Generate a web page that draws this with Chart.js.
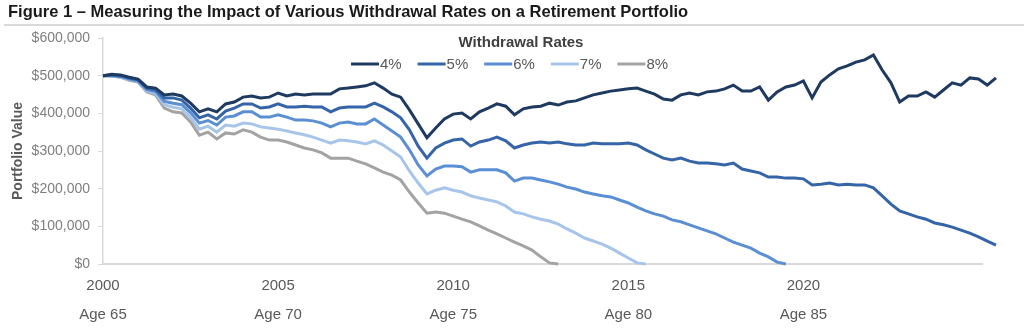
<!DOCTYPE html>
<html lang="en">
<head>
<meta charset="UTF-8">
<title>Withdrawal Rates</title>
<script src="https://cdn.jsdelivr.net/npm/chart.js"></script>
<style>
    body {
        margin: 0;
        background: #ffffff;
        font-family: 'Liberation Sans', Arial, sans-serif;
    }
    .wrap {
        position: relative;
        width: 1024px;
        height: 328px;
        overflow: hidden;
    }
    #figTitle {
        position: absolute;
        left: 8px;
        top: 2px;
        font: bold 16.5px 'Liberation Sans Narrow', 'Liberation Sans', Arial, sans-serif;
        color: #1a1a1a;
        white-space: nowrap;
    }
    #rule {
        position: absolute;
        left: 4px;
        right: 0;
        top: 24px;
        height: 2px;
        background: #d9d9d9;
    }
    canvas {
        position: absolute;
        left: 0;
        top: 0;
    }
</style>
</head>
<body>
<div class="wrap">
    <canvas id="chart" width="1024" height="328"></canvas>
    <div id="figTitle">Figure 1 – Measuring the Impact of Various Withdrawal Rates on a Retirement Portfolio</div>
    <div id="rule"></div>
</div>

<script>
    // quarterly readings, portfolio value in thousands of dollars
    const startYear = 2000;
    const stepYears = 0.25;
    const axisEndYear = 2025.1;

    const rateLabels = ['4%', '5%', '6%', '7%', '8%'];
    const tickYears = [2000, 2005, 2010, 2015, 2020];
    const ageLabels = ['Age 65', 'Age 70', 'Age 75', 'Age 80', 'Age 85'];

    const rate4 = [
        500, 504, 502, 496, 491, 470, 467, 449, 451, 446,
        427, 404, 412, 404, 425, 430, 443, 446, 441, 443,
        454, 446, 451, 449, 451, 451, 451, 465, 467, 470,
        473, 481, 467, 451, 443, 409, 372, 335, 361, 385,
        398, 401, 385, 404, 414, 425, 419, 396, 412, 417,
        419, 427, 422, 430, 433, 441, 449, 454, 459, 462,
        465, 467, 459, 451, 438, 435, 449, 454, 449, 457,
        459, 465, 475, 459, 459, 470, 435, 457, 470, 475,
        486, 441, 483, 502, 518, 526, 536, 542, 555, 515,
        481, 430, 446, 446, 457, 443, 462, 481, 475, 494,
        491, 475, 494
    ];
    const rate5 = [
        500, 502, 499, 494, 489, 467, 462, 441, 441, 435,
        414, 388, 396, 385, 406, 414, 425, 425, 414, 417,
        425, 417, 417, 419, 417, 417, 404, 414, 417, 417,
        417, 427, 417, 404, 388, 356, 313, 281, 308, 321,
        329, 332, 313, 324, 329, 337, 327, 308, 316, 321,
        324, 321, 324, 319, 316, 316, 321, 319, 319, 319,
        321, 316, 303, 292, 281, 276, 281, 273, 268, 268,
        266, 263, 268, 252, 247, 242, 231, 231, 228, 228,
        226, 210, 212, 215, 210, 212, 210, 210, 202, 181,
        159, 141, 133, 125, 119, 109, 104, 98, 90, 82,
        72, 61, 50
    ];
    const rate6 = [
        500, 500, 498, 491, 486, 463, 458, 432, 427, 423,
        402, 374, 381, 369, 390, 393, 404, 404, 390, 390,
        396, 390, 382, 382, 380, 374, 364, 374, 377, 372,
        372, 385, 369, 353, 337, 303, 263, 234, 252, 260,
        260, 258, 244, 250, 250, 250, 242, 220, 228, 228,
        223, 218, 212, 204, 199, 191, 186, 181, 178, 170,
        162, 151, 141, 133, 127, 117, 112, 104, 96, 88,
        80, 69, 58, 50, 42, 29, 19, 5, 0
    ];
    const rate7 = [
        500, 500, 496, 490, 485, 459, 453, 423, 416, 412,
        389, 358, 366, 350, 369, 366, 374, 372, 364, 361,
        358, 353, 348, 343, 337, 329, 321, 329, 327, 324,
        319, 327, 316, 300, 284, 247, 215, 186, 196, 202,
        196, 191, 181, 175, 170, 165, 154, 138, 133, 125,
        119, 114, 106, 93, 82, 69, 61, 53, 42, 29,
        16, 3, 0
    ];
    const rate8 = [
        500, 499, 496, 488, 483, 457, 449, 414, 404, 401,
        377, 342, 350, 332, 348, 345, 356, 350, 337, 329,
        329, 324, 316, 308, 303, 295, 281, 281, 281, 273,
        266, 255, 244, 236, 223, 191, 162, 135, 138, 135,
        127, 119, 112, 101, 90, 80, 69, 58, 48, 37,
        19, 3, 0
    ];

    const series = [rate4, rate5, rate6, rate7, rate8];
    const colors = ['#1f3a60', '#3565a8', '#5b8fd4', '#a7c5ea', '#a3a3a3'];

    Chart.defaults.font.family = "'Liberation Sans', Arial, sans-serif";

    const toPoints = arr => arr.map((v, i) => ({ x: startYear + i * stepYears, y: v }));

    // legend drawn inside the plot area, like the original
    const legendPlugin = {
        id: 'insideLegend',
        afterDraw(chart) {
            const ctx = chart.ctx;
            ctx.save();
            ctx.font = "bold 15px 'Liberation Sans', Arial, sans-serif";
            ctx.fillStyle = '#404040';
            ctx.textAlign = 'center';
            ctx.textBaseline = 'middle';
            ctx.fillText('Withdrawal Rates', 521, 43);

            ctx.font = "15px 'Liberation Sans', Arial, sans-serif";
            ctx.textAlign = 'left';
            chart.data.datasets.forEach((ds, i) => {
                const x0 = 351 + i * 66.6;
                ctx.strokeStyle = ds.borderColor;
                ctx.lineWidth = 3;
                ctx.beginPath();
                ctx.moveTo(x0, 64);
                ctx.lineTo(x0 + 28, 64);
                ctx.stroke();
                ctx.fillStyle = '#595959';
                ctx.fillText(ds.label, x0 + 29, 64.5);
            });
            ctx.restore();
        }
    };

    new Chart(document.getElementById('chart'), {
        type: 'line',
        data: {
            datasets: series.map((arr, i) => ({
                label: rateLabels[i],
                data: toPoints(arr),
                borderColor: colors[i],
                borderWidth: 3,
                pointRadius: 0,
                tension: 0,
                clip: false,
            }))
        },
        options: {
            responsive: false,
            animation: false,
            layout: { padding: { top: 38, right: 42, left: 0, bottom: 0 } },
            plugins: {
                legend: { display: false },
                tooltip: { enabled: false },
            },
            scales: {
                x: {
                    type: 'linear',
                    min: 2000,
                    bounds: 'data',
                    afterDataLimits(scale) { scale.max = axisEndYear; },
                    afterBuildTicks(scale) { scale.ticks = tickYears.map(v => ({ value: v })); },
                    afterFit(scale) { scale.height = 64; },
                    grid: { display: false, drawTicks: false },
                    border: { display: true, color: '#d9d9d9', width: 2 },
                    ticks: {
                        padding: 7,
                        color: '#595959',
                        font: { size: 15, lineHeight: 1.95 },
                        maxRotation: 0,
                        autoSkip: false,
                        callback: (v) => {
                            const i = tickYears.indexOf(v);
                            return i < 0 ? '' : [String(v), ageLabels[i]];
                        }
                    }
                },
                y: {
                    min: 0,
                    max: 600,
                    afterFit(scale) { scale.width = 103; },
                    grid: { drawOnChartArea: false, drawTicks: true, tickLength: 5, color: '#d9d9d9' },
                    border: { display: true, color: '#d9d9d9', width: 1.5 },
                    ticks: {
                        stepSize: 100,
                        padding: 8,
                        color: '#7f7f7f',
                        font: { size: 14 },
                        callback: (v) => '$' + (v * 1000).toLocaleString('en-US')
                    },
                    title: {
                        display: true,
                        text: 'Portfolio Value',
                        color: '#595959',
                        font: { size: 14, weight: 'bold' },
                        padding: { top: 10, bottom: 0 }
                    }
                }
            }
        },
        plugins: [legendPlugin]
    });
</script>
</body>
</html>
